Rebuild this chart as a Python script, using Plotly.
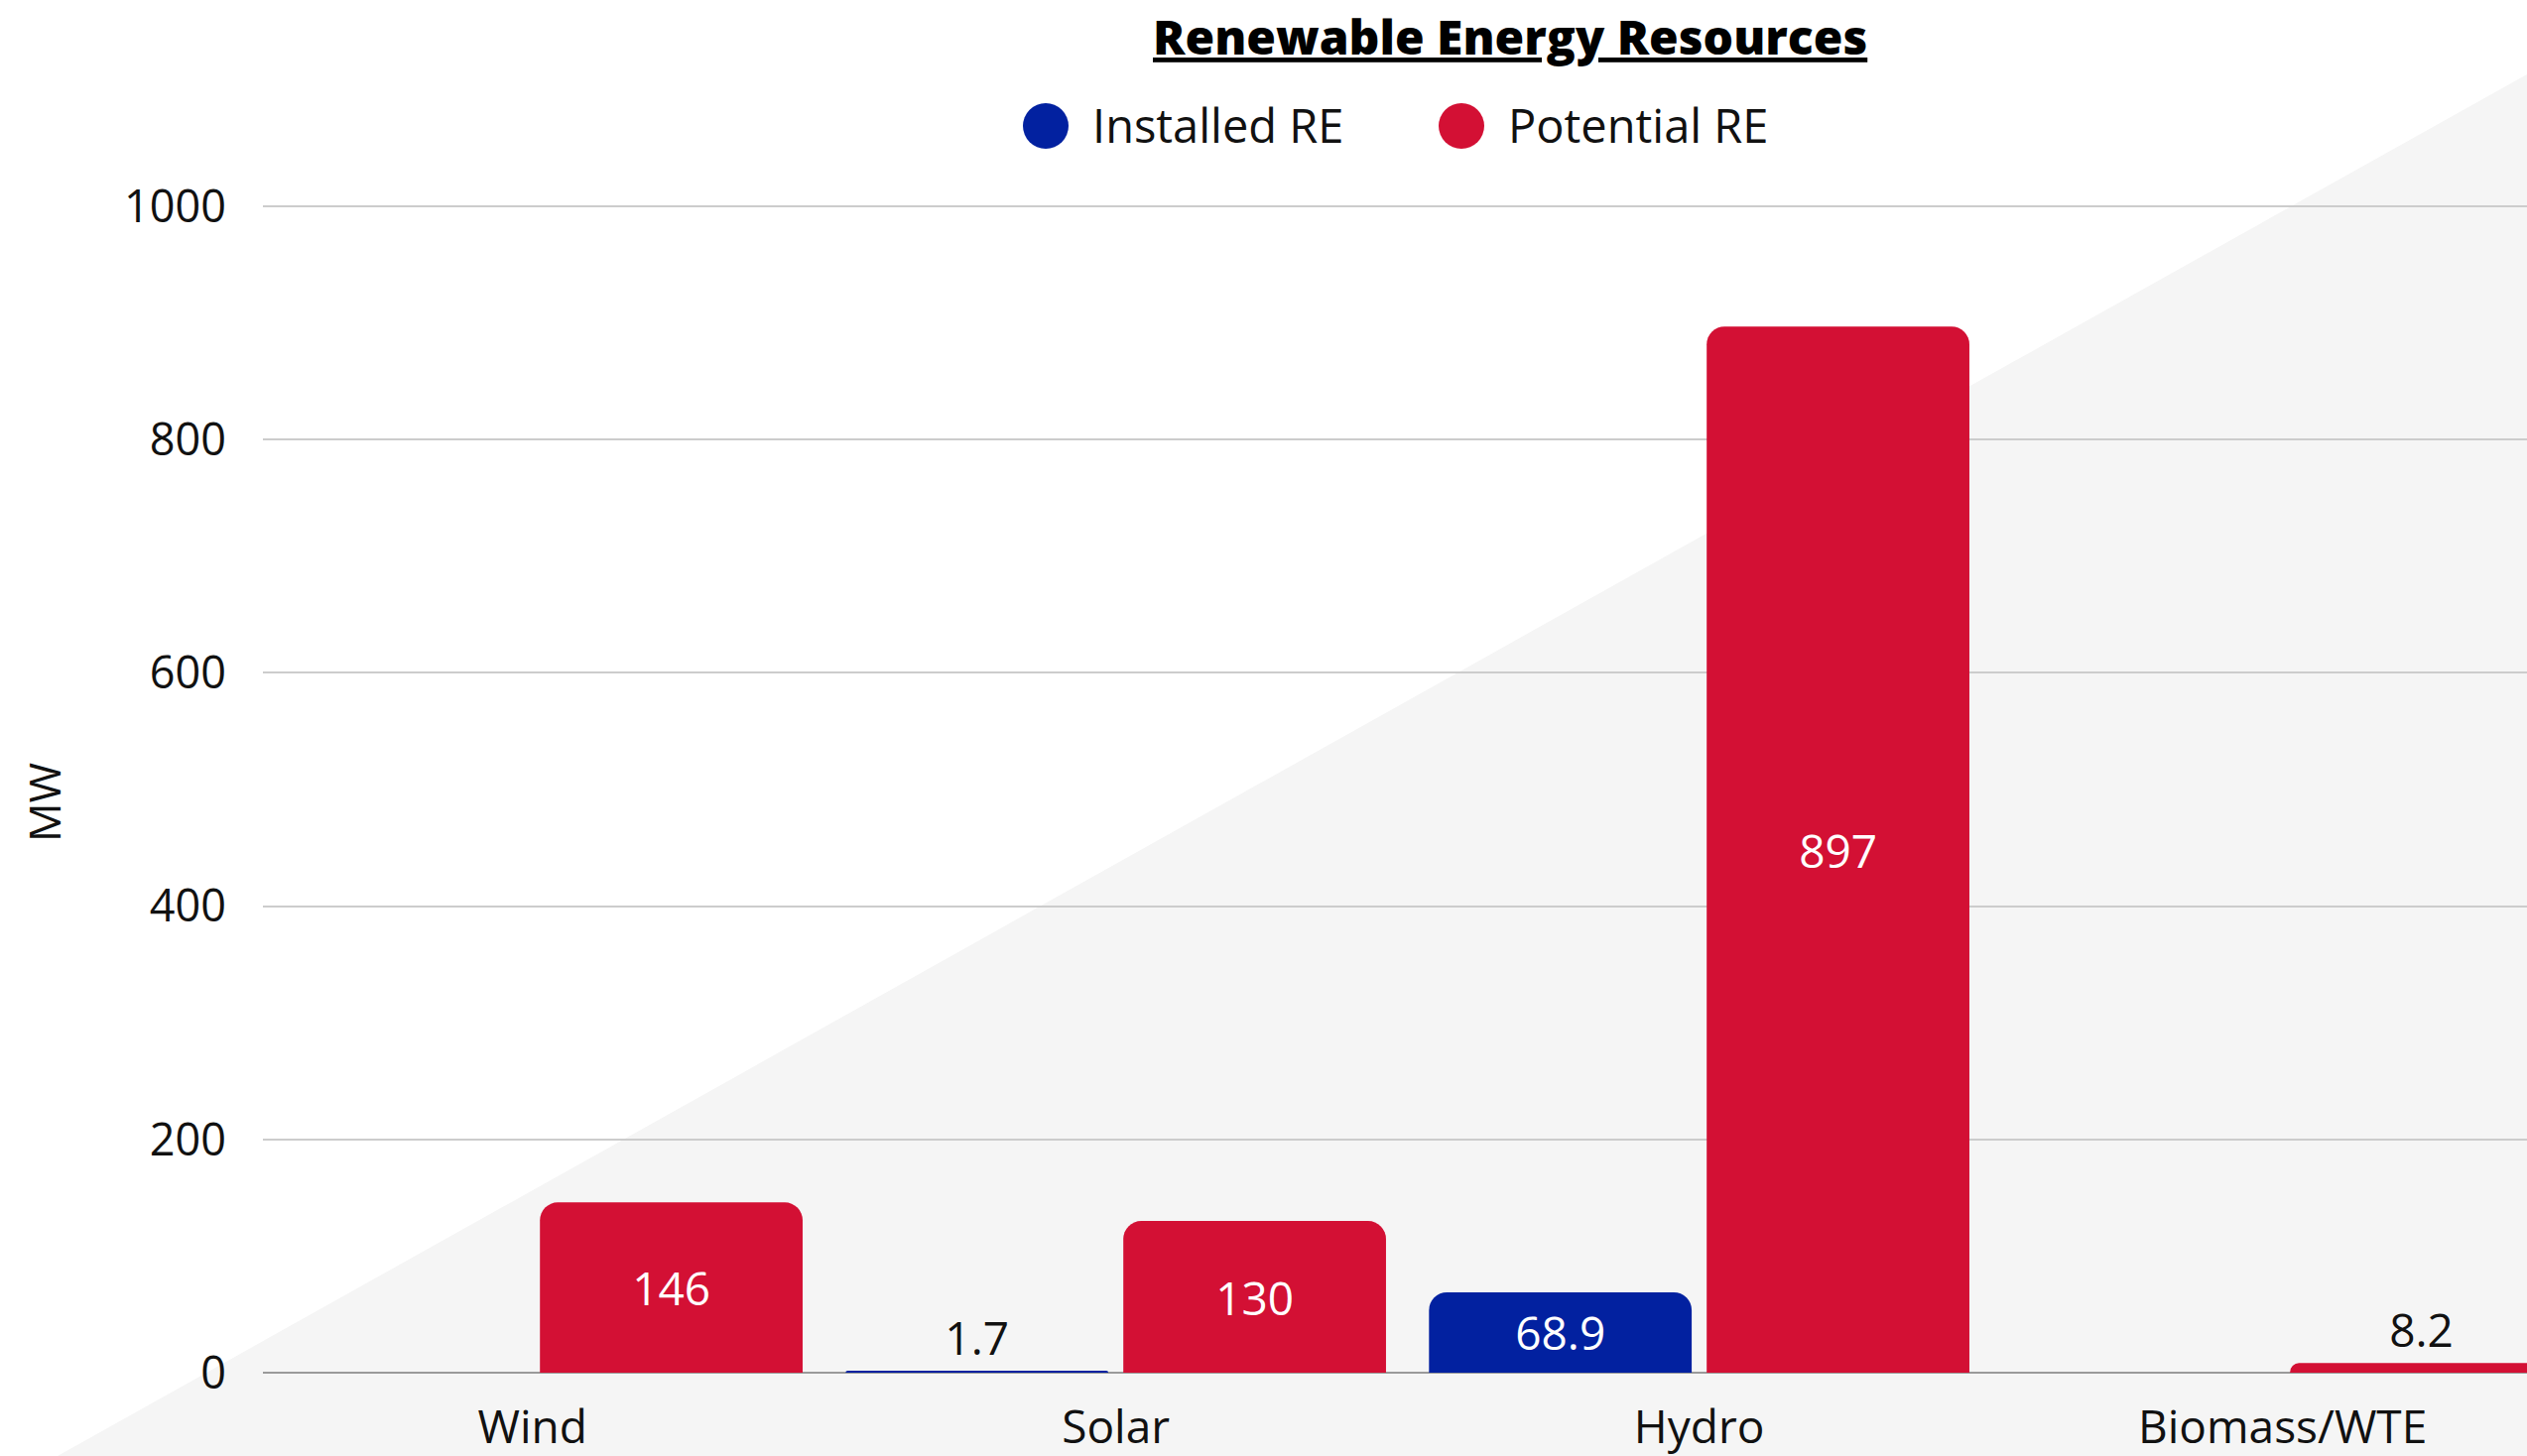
import plotly.graph_objects as go

# Renewable energy capacity by resource (MW)
categories = ["Wind", "Solar", "Hydro", "Biomass/WTE"]
installed_re = [None, 1.7, 68.9, None]
potential_re = [146, 130, 897, 8.2]
installed_pos = ["inside", "outside", "inside", "inside"]
potential_pos = ["inside", "inside", "inside", "outside"]
y_ticks = [0, 200, 400, 600, 800, 1000]

BLUE = "#0221A0"
RED = "#D31034"
FONT = "Open Sans"
INK = "#111111"

W, H = 2547, 1468
L, R, T, B = 265, 0, 204, 84
PW, PH = W - L - R, H - T - B
Y_TOP = PH / 1.176  # keeps the 1000 gridline just inside the plot area


def px(x):
    return (x - L) / PW


def py(y):
    return (H - B - y) / PH


fig = go.Figure()

fig.add_trace(go.Bar(
    name="Installed RE", x=categories, y=installed_re,
    marker=dict(color=BLUE, cornerradius=18, line=dict(width=0)),
    texttemplate="%{y}", textposition=installed_pos,
    insidetextanchor="middle", constraintext="none",
    insidetextfont=dict(color="white", size=46, family=FONT),
    outsidetextfont=dict(color=INK, size=46, family=FONT),
    showlegend=False, cliponaxis=True,
))
fig.add_trace(go.Bar(
    name="Potential RE", x=categories, y=potential_re,
    marker=dict(color=RED, cornerradius=18, line=dict(width=0)),
    texttemplate="%{y}", textposition=potential_pos,
    insidetextanchor="middle", constraintext="none",
    insidetextfont=dict(color="white", size=46, family=FONT),
    outsidetextfont=dict(color=INK, size=46, family=FONT),
    showlegend=False, cliponaxis=True,
))

shapes = [
    # light diagonal backdrop
    dict(type="path", xref="paper", yref="paper", layer="below",
         path=f"M {px(58)} {py(1468)} L {px(W)} {py(75)} L {px(W)} {py(1468)} Z",
         fillcolor="#F5F5F5", line=dict(width=0)),
]

# legend: large round swatches with labels
legend_items = [("Installed RE", BLUE, 1054, 1099), ("Potential RE", RED, 1473, 1518)]
annotations = []
for label, color, cx, tx in legend_items:
    shapes.append(dict(type="circle", xref="paper", yref="paper",
                       xsizemode="pixel", ysizemode="pixel",
                       xanchor=px(cx), yanchor=py(127),
                       x0=-23, x1=23, y0=-23, y1=23,
                       fillcolor=color, line=dict(width=0)))
    annotations.append(dict(text=label, xref="paper", yref="paper",
                            x=px(tx), y=py(126), xanchor="left", yanchor="middle",
                            showarrow=False, font=dict(size=47, family=FONT, color=INK)))

annotations.append(dict(
    text="<span style='text-decoration:underline'>Renewable Energy Resources</span>",
    xref="paper", yref="paper", x=px(1522), y=py(36),
    xanchor="center", yanchor="middle", showarrow=False,
    font=dict(size=48, family=FONT, color="#000000", weight=800)))

annotations.append(dict(
    text="MW", xref="paper", yref="paper", x=px(44), y=py(809),
    xanchor="center", yanchor="middle", textangle=-90, showarrow=False,
    font=dict(size=44, family=FONT, color=INK)))

fig.update_layout(
    width=W, height=H,
    margin=dict(l=L, r=R, t=T, b=B, pad=0),
    paper_bgcolor="white", plot_bgcolor="rgba(0,0,0,0)",
    barmode="group", bargap=0.048, bargroupgap=0.054,
    showlegend=False,
    shapes=shapes, annotations=annotations,
    font=dict(family=FONT, color=INK),
)

fig.update_xaxes(
    range=[-0.462, 3.419], showgrid=False, showline=False, ticks="",
    tickfont=dict(size=46, family=FONT, color=INK), ticklabelstandoff=24,
)
fig.update_yaxes(
    range=[0, Y_TOP], tickvals=y_ticks,
    showgrid=True, gridcolor="#CCCCCC", gridwidth=2,
    zeroline=True, zerolinecolor="#9A9A9A", zerolinewidth=2,
    showline=False, ticks="",
    tickfont=dict(size=45, family=FONT, color=INK), ticklabelstandoff=36,
)

fig.write_html("out.html")
